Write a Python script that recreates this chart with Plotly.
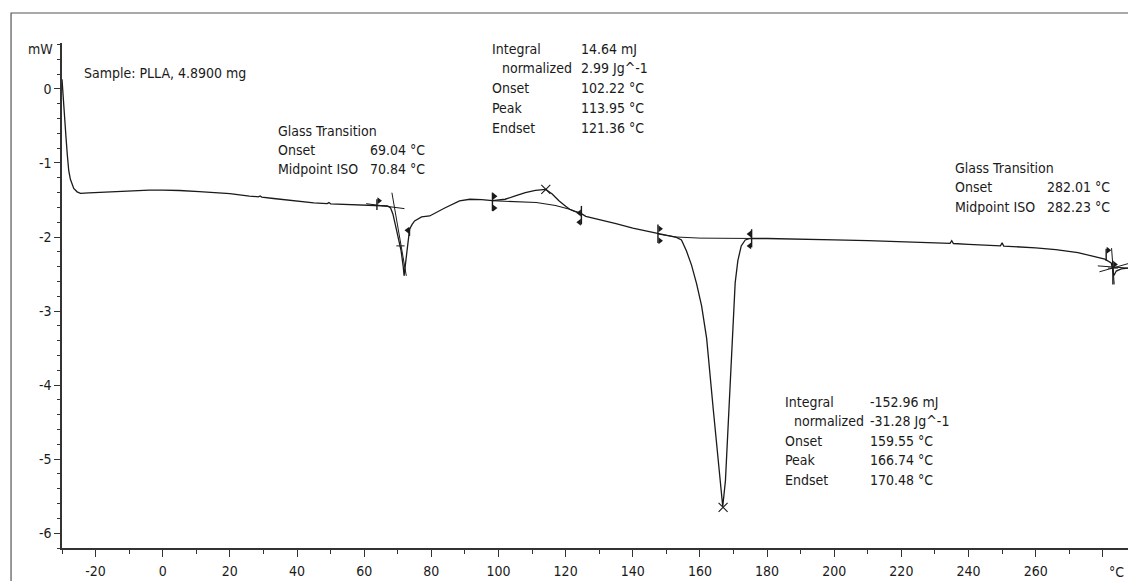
import plotly.graph_objects as go

# ---------------- data ----------------
temp_c = [-30, -29.6, -29.2, -28.8, -28.4, -28.0, -27.5, -27.0, -26.5, -25.5, -24.5, -22, -20, -15, -10, -4,
          0, 5, 10.9, 15, 20, 25.8, 28.5, 29, 29.5, 33, 40.7, 45, 49, 49.5, 50, 55, 60, 63.6,
          66.97, 67.87, 68.55, 69.36, 70.25, 71.0, 71.6, 71.89, 72.34, 72.94, 73.53, 74.28, 75.02,
          77.1, 79.5, 84.0, 88.4, 91.5, 95, 98.2, 100, 102, 105, 108, 111, 114.1, 116, 118, 120,
          121.2, 122.5, 124.7, 126, 130, 135, 140, 145, 147.5, 151, 153, 154.5, 156, 157.5, 159,
          160.5, 162, 164, 166, 166.8, 167.6, 168.5, 169.5, 170.5, 171.3, 172.3, 173.5, 175, 180,
          190, 200, 210, 220, 230, 234.5, 235, 235.5, 240, 249.5, 250, 250.5, 260, 266, 272.6,
          276, 280.6, 282.5, 283.3, 284, 285.5, 287.5]
heat_flow_mw = [0.13, -0.17, -0.45, -0.66, -0.90, -1.10, -1.22, -1.30, -1.345, -1.39, -1.41, -1.405, -1.40,
                -1.39, -1.378, -1.368, -1.368, -1.372, -1.388, -1.40, -1.415, -1.447, -1.458, -1.445,
                -1.46, -1.48, -1.523, -1.54, -1.548, -1.535, -1.552, -1.56, -1.565, -1.571,
                -1.581, -1.608, -1.689, -1.851, -2.026, -2.187, -2.389, -2.524, -2.349, -2.12, -1.895,
                -1.83, -1.783, -1.729, -1.716, -1.608, -1.513, -1.49, -1.495, -1.51, -1.505, -1.49,
                -1.446, -1.40, -1.37, -1.356, -1.42, -1.51, -1.585, -1.625, -1.65, -1.685, -1.72,
                -1.76, -1.82, -1.88, -1.93, -1.96, -1.99, -2.005, -2.04, -2.19, -2.38, -2.63, -2.93,
                -3.37, -4.34, -5.29, -5.64, -5.29, -4.48, -3.45, -2.62, -2.32, -2.12, -2.04, -2.02,
                -2.02, -2.025, -2.04, -2.05, -2.066, -2.08, -2.085, -2.05, -2.088, -2.10, -2.12,
                -2.08, -2.122, -2.147, -2.17, -2.21, -2.25, -2.30, -2.35, -2.52, -2.46, -2.43, -2.42]

# integration baselines
cryst_base_t = [98.2, 105, 111.3, 117, 121.2, 124.7]
cryst_base_mw = [-1.51, -1.52, -1.535, -1.575, -1.625, -1.685]
melt_base_t = [147.5, 153, 160, 175.4]
melt_base_mw = [-1.96, -2.0, -2.015, -2.02]

# glass-transition construction lines (None separates segments)
tg_lines_t = [60.6, 72.0, None, 68.26, 72.55, None, 69.57, 72.04, None,
              278.5, 287.5, None, 279.0, 287.5, None, 282.6, 283.4, None, 281.5, 284.5]
tg_lines_mw = [-1.55, -1.617, None, -1.402, -2.524, None, -2.12, -2.12, None,
               -2.39, -2.42, None, -2.47, -2.36, None, -2.15, -2.64, None, -2.42, -2.42]

# evaluation limit bars
limit_t = [63.8, 73.5, 98.2, 124.7, 147.5, 175.4, 281.0, 283.0]
limit_lo = [-1.635, -1.985, -1.65, -1.83, -2.08, -2.14, -2.32, -2.64]
limit_hi = [-1.49, -1.873, -1.40, -1.58, -1.83, -1.895, -2.16, -2.32]
flag_right_t = [64.4, 98.8, 98.8, 148.1, 148.1, 281.6, 283.6]
flag_right_mw = [-1.51, -1.45, -1.61, -1.89, -2.05, -2.18, -2.37]
flag_left_t = [72.9, 124.1, 124.1, 174.8, 174.8]
flag_left_mw = [-1.91, -1.675, -1.80, -1.96, -2.12]

# peaks
peak_t = [114.1, 166.9]
peak_mw = [-1.356, -5.65]

x_tick_vals = [-20, 0, 20, 40, 60, 80, 100, 120, 140, 160, 180, 200, 220, 240, 260, 280]
x_tick_text = ["-20", "0", "20", "40", "60", "80", "100", "120", "140", "160", "180", "200",
               "220", "240", "260", ""]
y_tick_vals = [-6, -5, -4, -3, -2, -1, 0]
y_tick_text = ["-6", "-5", "-4", "-3", "-2", "-1", "0"]

FONT = "DejaVu Sans Condensed, DejaVu Sans, sans-serif"
FS = 14
INK = "#1a1a1a"
AX = "#333333"

fig = go.Figure()
fig.add_trace(go.Scatter(x=temp_c, y=heat_flow_mw, mode="lines",
                         line=dict(color=INK, width=1.3), hoverinfo="skip"))
fig.add_trace(go.Scatter(x=cryst_base_t, y=cryst_base_mw, mode="lines",
                         line=dict(color=INK, width=1.1), hoverinfo="skip"))
fig.add_trace(go.Scatter(x=melt_base_t, y=melt_base_mw, mode="lines",
                         line=dict(color=INK, width=1.0), hoverinfo="skip"))
fig.add_trace(go.Scatter(x=tg_lines_t, y=tg_lines_mw, mode="lines",
                         line=dict(color=INK, width=1.0), hoverinfo="skip"))
bar_x, bar_y = [], []
for t, lo, hi in zip(limit_t, limit_lo, limit_hi):
    bar_x += [t, t, None]
    bar_y += [lo, hi, None]
fig.add_trace(go.Scatter(x=bar_x, y=bar_y, mode="lines",
                         line=dict(color=INK, width=1.4), hoverinfo="skip"))
fig.add_trace(go.Scatter(x=flag_right_t, y=flag_right_mw, mode="markers",
                         marker=dict(symbol="triangle-right", size=6, color=INK), hoverinfo="skip"))
fig.add_trace(go.Scatter(x=flag_left_t, y=flag_left_mw, mode="markers",
                         marker=dict(symbol="triangle-left", size=6, color=INK), hoverinfo="skip"))
fig.add_trace(go.Scatter(x=peak_t, y=peak_mw, mode="markers",
                         marker=dict(symbol="x-thin-open", size=9, color=INK,
                                     line=dict(color=INK, width=1.1)),
                         hoverinfo="skip"))

def txt(x, y, s, anchor="left"):
    fig.add_annotation(x=x, y=y, text=s, showarrow=False, xanchor=anchor, yanchor="middle",
                       font=dict(family=FONT, size=FS, color=INK), xref="x", yref="y")

def ptxt(x, y, s, anchor="center"):
    fig.add_annotation(x=x, y=y, text=s, showarrow=False, xanchor=anchor, yanchor="middle",
                       font=dict(family=FONT, size=FS, color=INK), xref="paper", yref="paper")

ptxt(-0.0197, 0.988, "mW")
ptxt(0.998, -0.0475, "°C", "right")
txt(-23.9, 0.21, "Sample: PLLA, 4.8900 mg")

# Glass transition (left)
txt(33.6, -0.57, "Glass Transition")
txt(33.6, -0.826, "Onset")
txt(61.0, -0.826, "69.04 °C")
txt(33.6, -1.082, "Midpoint ISO")
txt(61.0, -1.082, "70.84 °C")

# Crystallisation block
rows_c = [("Integral", "14.64 mJ", 0.535, False), ("normalized", "2.99 Jg^-1", 0.283, True),
          ("Onset", "102.22 °C", 0.013, False), ("Peak", "113.95 °C", -0.264, False),
          ("Endset", "121.36 °C", -0.534, False)]
for lab, val, yy, ind in rows_c:
    txt(100.4 if ind else 97.4, yy, lab)
    txt(123.9, yy, val)

# Glass transition (right)
txt(235.4, -1.065, "Glass Transition")
txt(235.4, -1.33, "Onset")
txt(262.8, -1.33, "282.01 °C")
txt(235.4, -1.595, "Midpoint ISO")
txt(262.8, -1.595, "282.23 °C")

# Melting block
rows_m = [("Integral", "-152.96 mJ", -4.232, False), ("normalized", "-31.28 Jg^-1", -4.488, True),
          ("Onset", "159.55 °C", -4.757, False), ("Peak", "166.74 °C", -5.017, False),
          ("Endset", "170.48 °C", -5.278, False)]
for lab, val, yy, ind in rows_m:
    txt(187.4 if ind else 184.6, yy, lab)
    txt(210.1, yy, val)

# outer frame
fig.add_shape(type="rect", xref="paper", yref="paper", x0=-0.0478, y0=-0.2, x1=1.05, y1=1.0594,
              line=dict(color="#555555", width=1.2), fillcolor="rgba(0,0,0,0)", layer="below")

fig.update_layout(
    width=1128, height=581,
    margin=dict(l=62, r=0, t=43, b=33),
    paper_bgcolor="white", plot_bgcolor="white",
    showlegend=False,
    font=dict(family=FONT, size=FS, color=INK),
    xaxis=dict(range=[-30, 287.5], showgrid=False, zeroline=False, showline=True,
               linecolor=AX, linewidth=1.5, ticks="outside", ticklen=7, tickwidth=1.3,
               tickcolor=AX, tickmode="array", tickvals=x_tick_vals, ticktext=x_tick_text,
               tickfont=dict(family=FONT, size=FS, color=INK), ticklabelstandoff=2,
               minor=dict(tickmode="linear", tick0=-30, dtick=10, ticks="outside", ticklen=4,
                          tickcolor=AX, tickwidth=1, showgrid=False)),
    yaxis=dict(range=[-6.2, 0.62], showgrid=False, zeroline=False, showline=True,
               linecolor=AX, linewidth=1.5, ticks="outside", ticklen=6, tickwidth=1.3,
               tickcolor=AX, tickmode="array", tickvals=y_tick_vals, ticktext=y_tick_text,
               tickfont=dict(family=FONT, size=FS, color=INK),
               minor=dict(tickmode="linear", tick0=0, dtick=0.2, ticks="outside", ticklen=3,
                          tickcolor=AX, tickwidth=1, showgrid=False)),
)

fig.write_html("out.html")
